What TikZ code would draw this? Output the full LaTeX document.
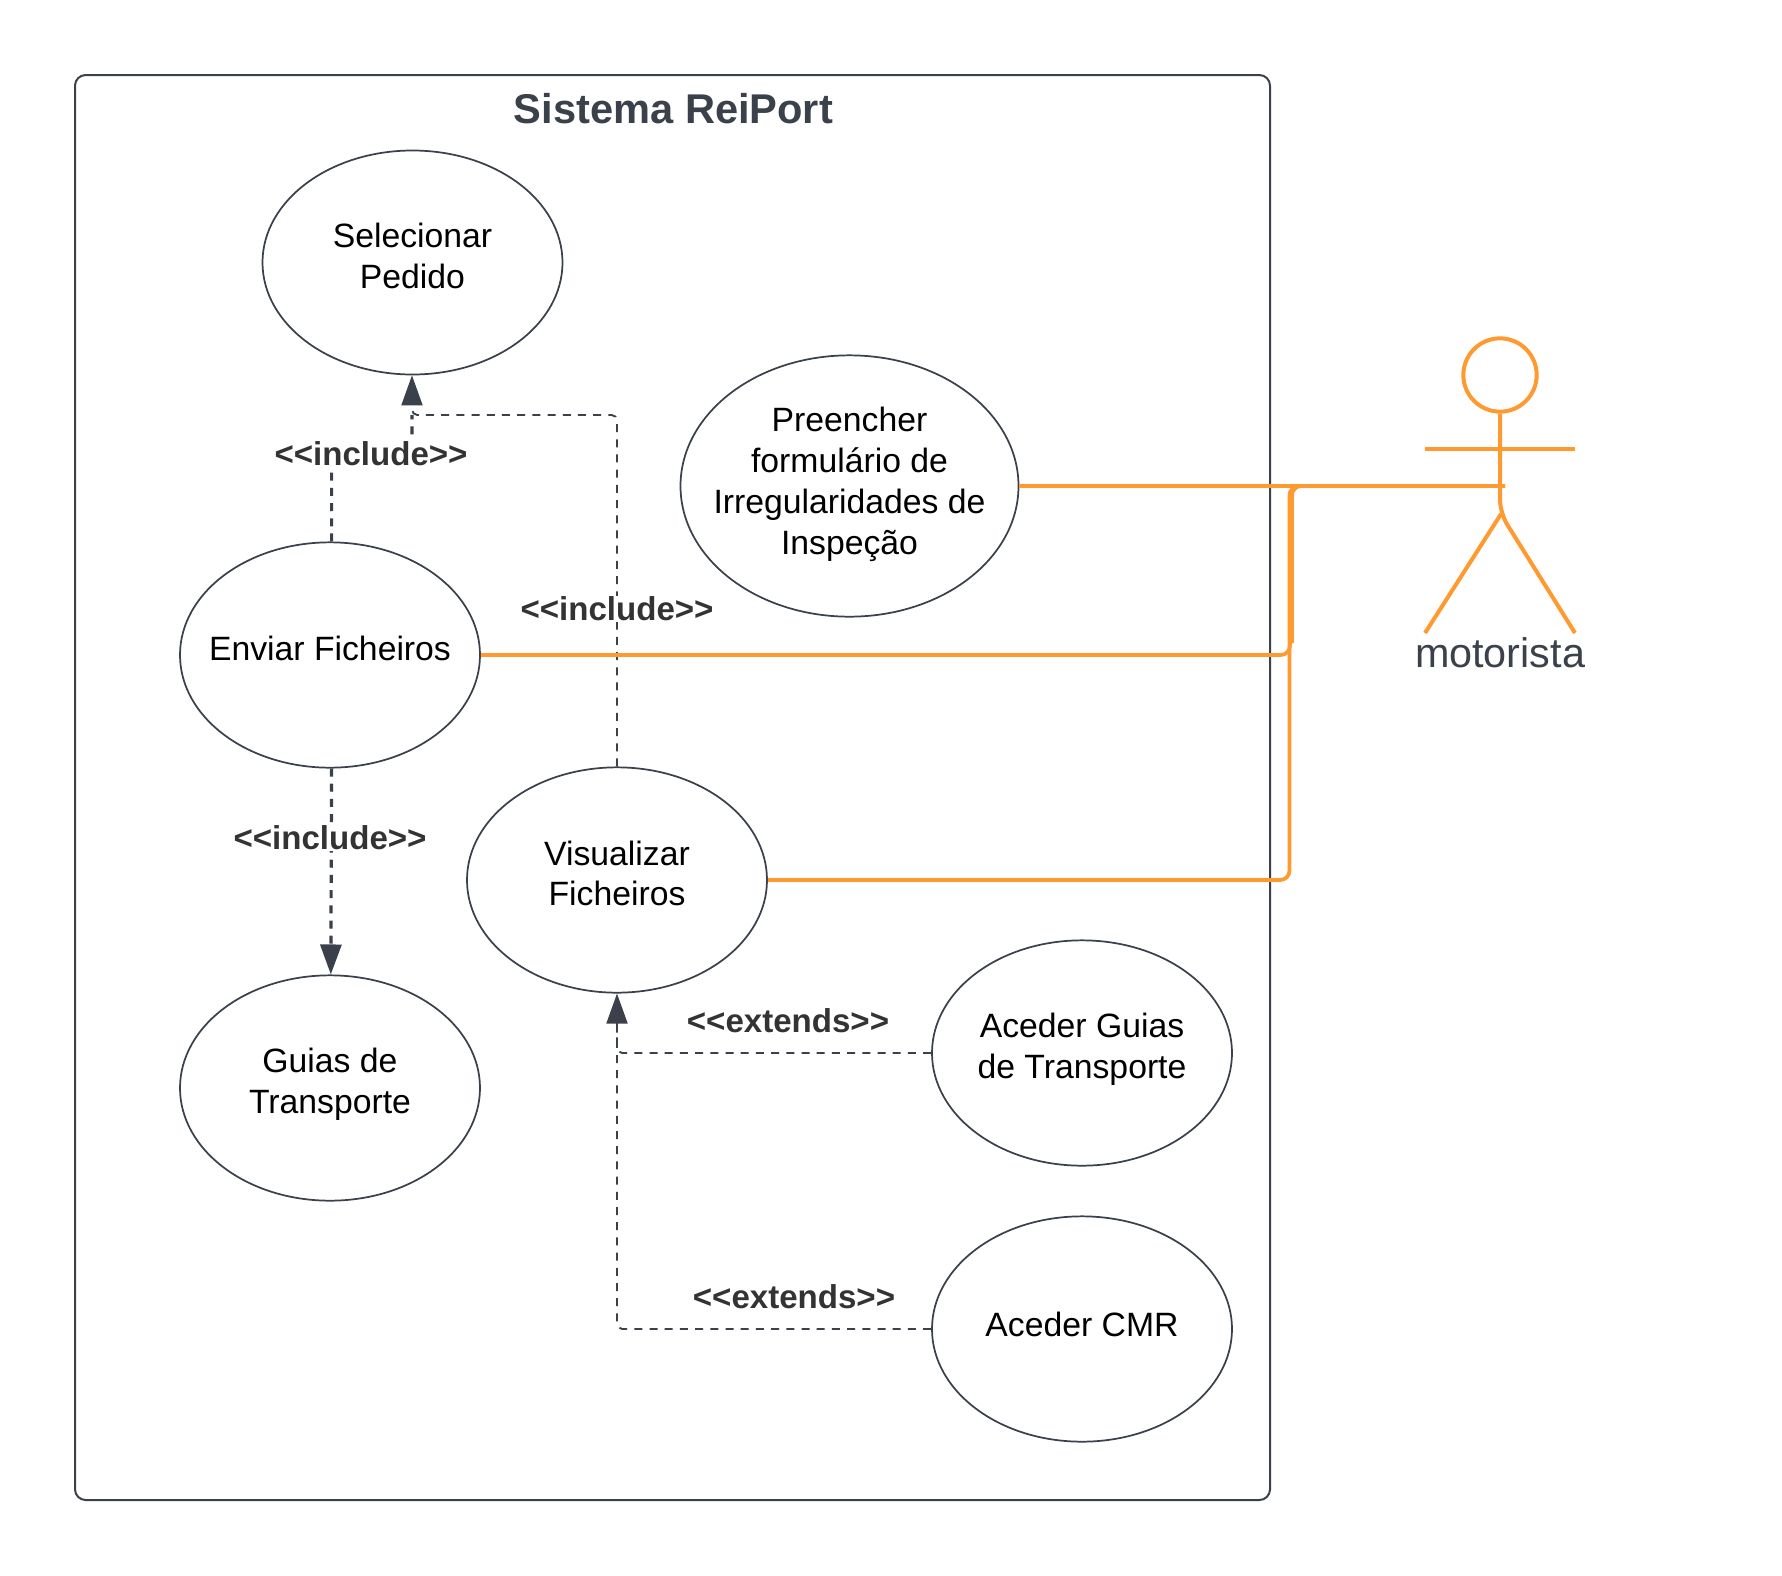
\documentclass[tikz,border=0pt]{standalone}
\usepackage{fontspec}
\setmainfont{Liberation Sans}
\usetikzlibrary{arrows.meta,shapes.geometric}
\definecolor{slate}{HTML}{3A414A}
\definecolor{lab}{HTML}{333333}
\definecolor{org}{HTML}{FF9A30}
\newcommand{\llt}{\mbox{<}\mbox{<}}
\newcommand{\ggt}{\mbox{>}\mbox{>}}
\tikzset{
  px/.style={x=0.75pt,y=-0.75pt},
  uc/.style={draw=slate,line width=1.3pt,ellipse,inner sep=0pt,minimum width=225pt,minimum height=169pt},
  uclabel/.style={align=center,font=\fontsize{25.3}{30.6}\selectfont,text=black,yshift=5pt,inner sep=0pt},
  stereo/.style={font=\fontsize{24.8}{30}\selectfont\bfseries,text=lab,fill=white,inner sep=1pt},
  dep/.style={draw=slate,line width=1.4pt,dash pattern=on 6pt off 5.4pt,rounded corners=4pt},
  depthick/.style={dep,line width=2.4pt},
  tip/.style={-{Triangle[length=22.5pt,width=15.75pt,fill=slate]}},
  assoc/.style={draw=org,line width=2.8pt,rounded corners=7pt},
  limb/.style={draw=org,line width=3pt},
}
\begin{document}
\begin{tikzpicture}[px]
\useasboundingbox (0,0) rectangle (1782,1575);
\draw[slate,line width=1.5pt,rounded corners=8pt] (75,75) rectangle (1270,1500);
\node[font=\fontsize{31.2}{36}\selectfont\bfseries,text=slate] (title) at (673.5,109) {Sistema ReiPort};

\node[uc,minimum height=168pt,label={[uclabel]center:Selecionar\\Pedido}] (sel) at (412.5,262.5) {};
\node[uc,label={[uclabel]center:Enviar Ficheiros}] (env) at (330,655) {};
\node[uc,label={[uclabel,yshift=0pt]center:Visualizar\\Ficheiros}] (vis) at (617,880) {};
\node[uc,label={[uclabel,yshift=-2.2pt]center:Guias de\\Transporte}] (gui) at (330,1088) {};
\node[uc,minimum width=253.5pt,minimum height=196pt,label={[uclabel,yshift=-3.9pt]center:Preencher\\formulário de\\Irregularidades de\\Inspeção}] (pre) at (849.5,486) {};
\node[uc,label={[uclabel,yshift=-2.2pt]center:Aceder Guias\\de Transporte}] (agt) at (1082,1053) {};
\node[uc,label={[uclabel,yshift=-1.4pt]center:Aceder CMR}] (cmr) at (1082,1329) {};

% actor
\node[draw=org,line width=3pt,circle,inner sep=0pt,minimum size=55pt] (head) at (1500,375) {};
\coordinate (hip) at (1500,513);
\coordinate (handL) at (1425,449);
\coordinate (handR) at (1575,449);
\coordinate (footL) at (1425,633);
\coordinate (footR) at (1575,633);
\coordinate (hand) at (1505,486);
\draw[limb] (handL) -- (handR);
\draw[limb,rounded corners=10pt] (head.south) -- (1500,513) -- (footR);
\draw[limb] (footL) -- (1501,514);
\node[font=\fontsize{31}{36}\selectfont,text=slate,anchor=base] (mot) at (1500,667) {motorista};

% dependencies
\coordinate (j1) at (412,415);
\coordinate (j2) at (412,460);
\draw[dep,tip] (vis.north) |- (j1) -- ([xshift=-0.4pt]sel.south);
\draw[depthick] ([xshift=1.2pt]env.north) |- (j2) -- (412,415);
\draw[depthick,tip] ([xshift=1.2pt]env.south) -- ([xshift=0.6pt]gui.north);
\draw[dep,tip] (agt.west) -| (vis.south);
\draw[dep] (cmr.west) -| (617,1030);

\node[stereo] (l1) at (371,454) {\llt include\ggt};
\node[stereo] (l2) at (617,609) {\llt include\ggt};
\node[stereo] (l3) at (330,838) {\llt include\ggt};
\node[stereo,fill=none] (l4) at (788,1021) {\llt extends\ggt};
\node[stereo,fill=none] (l5) at (794,1297) {\llt extends\ggt};

% associations
\coordinate (b2) at (1289.5,880);
\draw[assoc,line width=2.4pt] (pre.east) -- (hand);
\draw[assoc] (env.east) -- (1290,655) -- (1290,643);
\draw[assoc] (1292,643) -- (1292,486) -- (hand);
\draw[assoc] (vis.east) -- (b2) -- (1289.5,486) -- (hand);
\end{tikzpicture}
\end{document}
